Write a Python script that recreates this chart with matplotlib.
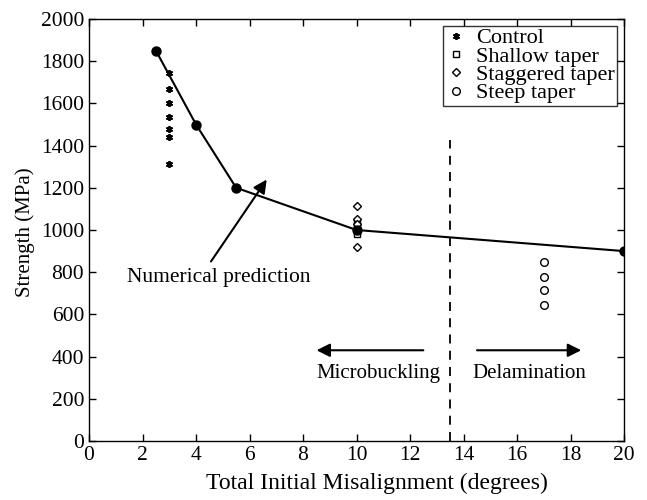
import numpy as np
import matplotlib.pyplot as plt

plt.rcParams['font.family'] = ['Liberation Serif', 'DejaVu Serif']

# numerical prediction
pred_x = [2.5, 4, 5.5, 10, 20]
pred_y = [1850, 1500, 1200, 1000, 900]

# experimental data
control_x = [3, 3, 3, 3, 3, 3, 3]
control_y = [1742, 1669, 1603, 1537, 1477, 1440, 1311]
shallow_x = [10, 10, 10, 10, 10]
shallow_y = [1040, 1020, 1005, 990, 980]
stagger_x = [10, 10, 10, 10]
stagger_y = [1112, 1052, 1030, 921]
steep_x = [17, 17, 17, 17]
steep_y = [850, 776, 716, 645]

fig = plt.figure(figsize=(6.47, 5.0), dpi=100)
ax = fig.add_axes([0.1376, 0.118, 0.827, 0.844])

ax.plot(pred_x, pred_y, color='black', lw=1.5, marker='o', ms=6.5, zorder=3)
ax.plot(control_x, control_y, ls='none', marker=(6, 2, 0), ms=5, color='black',
        mew=1.3, label='Control')
ax.plot(shallow_x, shallow_y, ls='none', marker='s', ms=4.5, mfc='white', mec='black',
        mew=1, label='Shallow taper')
ax.plot(stagger_x, stagger_y, ls='none', marker='D', ms=4.5, mfc='white', mec='black',
        mew=1, label='Staggered taper')
ax.plot(steep_x, steep_y, ls='none', marker='o', ms=5.5, mfc='white', mec='black',
        mew=1, label='Steep taper')

# boundary between failure modes
ax.plot([13.5, 13.5], [0, 1425], color='black', ls=(0, (5, 4)), lw=1.3)

ax.annotate('', xy=(8.4, 430), xytext=(12.6, 430),
            arrowprops=dict(arrowstyle='-|>', color='black', lw=1.5, mutation_scale=20))
ax.annotate('', xy=(18.5, 430), xytext=(14.4, 430),
            arrowprops=dict(arrowstyle='-|>', color='black', lw=1.5, mutation_scale=20))
ax.text(10.8, 318, 'Microbuckling', ha='center', va='center', fontsize=15)
ax.text(16.45, 318, 'Delamination', ha='center', va='center', fontsize=15)

ax.annotate('', xy=(6.7, 1250), xytext=(4.5, 840),
            arrowprops=dict(arrowstyle='-|>', color='black', lw=1.5, mutation_scale=20))
ax.text(4.85, 775, 'Numerical prediction', ha='center', va='center', fontsize=15.5)

ax.set_xlim(0, 20)
ax.set_ylim(0, 2000)
ax.set_xticks(np.arange(0, 21, 2))
ax.set_yticks(np.arange(0, 2001, 200))
ax.tick_params(direction='in', top=True, right=True, labelsize=15.5, length=5, width=1)
ax.set_xlabel('Total Initial Misalignment (degrees)', fontsize=17)
ax.set_ylabel('Strength (MPa)', fontsize=15)
ax.xaxis.set_label_coords(0.538, -0.075)
ax.yaxis.set_label_coords(-0.101, 0.495)
for s in ax.spines.values():
    s.set_linewidth(1)

leg = ax.legend(loc='upper right', fontsize=16, frameon=True, fancybox=False,
                edgecolor='black', handlelength=1.0, handletextpad=0.4,
                borderpad=0.1, labelspacing=-0.1, borderaxespad=0.3)
leg.get_frame().set_linewidth(1)

fig.savefig('out.png', dpi=100)
